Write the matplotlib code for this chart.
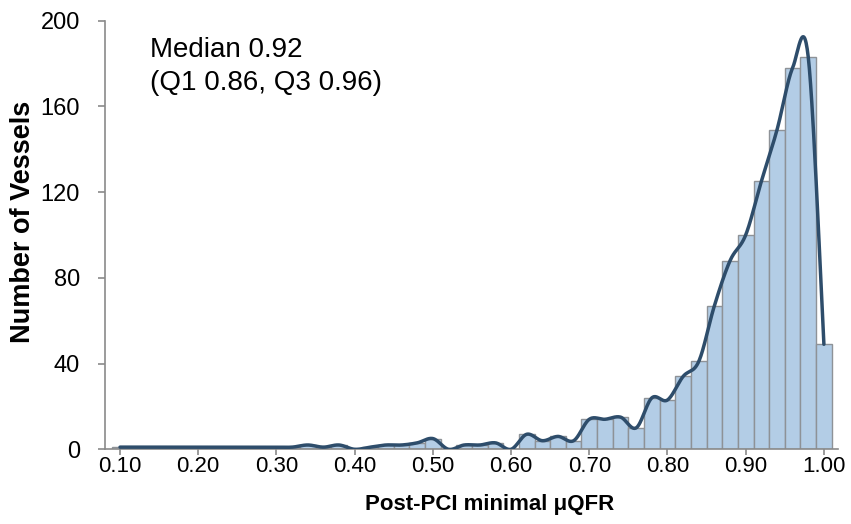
import numpy as np
import matplotlib
matplotlib.use("Agg")
import matplotlib.pyplot as plt

# Histogram of post-PCI minimal uQFR, bins 0.02 wide centred on even hundredths
bin_centers = np.round(np.arange(0.10, 1.001, 0.02), 2)
counts = [1, 1, 1, 1, 1, 1, 1, 1, 1, 1,      # 0.10 - 0.28
          1, 1, 2, 1, 2, 0, 1, 2, 2, 3,      # 0.30 - 0.48
          5, 0, 2, 2, 3, 0, 7, 4, 6, 4,      # 0.50 - 0.68
          14, 14, 15, 10, 24, 23, 34, 41, 67, 88,   # 0.70 - 0.88
          100, 125, 149, 178, 183, 49]       # 0.90 - 1.00
x_ticks = [0.10, 0.20, 0.30, 0.40, 0.50, 0.60, 0.70, 0.80, 0.90, 1.00]
y_ticks = [0, 40, 80, 120, 160, 200]
note = "Median 0.92\n(Q1 0.86, Q3 0.96)"

plt.rcParams["font.family"] = ["Liberation Sans", "DejaVu Sans"]

BAR = "#b3cde6"
EDGE = "#8e9297"
LINE = "#2e4d6b"
AXIS = "#8a8a8a"


def smooth_line(x, y, n=30):
    """Excel-style smoothed line (Catmull-Rom through every point)."""
    x = np.asarray(x, float)
    y = np.asarray(y, float)
    px = np.concatenate([[x[0]], x, [x[-1]]])
    py = np.concatenate([[y[0]], y, [y[-1]]])
    t = np.linspace(0, 1, n)[:, None]
    h00 = 2 * t**3 - 3 * t**2 + 1
    h10 = t**3 - 2 * t**2 + t
    h01 = -2 * t**3 + 3 * t**2
    h11 = t**3 - t**2
    out_x, out_y = [], []
    for i in range(1, len(px) - 2):
        mx0, mx1 = (px[i + 1] - px[i - 1]) / 2, (px[i + 2] - px[i]) / 2
        my0, my1 = (py[i + 1] - py[i - 1]) / 2, (py[i + 2] - py[i]) / 2
        out_x.append((h00 * px[i] + h10 * mx0 + h01 * px[i + 1] + h11 * mx1).ravel())
        out_y.append((h00 * py[i] + h10 * my0 + h01 * py[i + 1] + h11 * my1).ravel())
    return np.concatenate(out_x), np.concatenate(out_y)


fig = plt.figure(figsize=(8.51, 5.24), dpi=100)
ax = fig.add_axes([0.1234, 0.1426, 0.8613, 0.8179])

ax.bar(bin_centers, counts, width=0.02, color=BAR, edgecolor=EDGE, linewidth=1.0, zorder=2)
sx, sy = smooth_line(bin_centers, counts)
ax.plot(sx, sy, color=LINE, linewidth=2.5, zorder=3, solid_capstyle="round")

ax.set_xlim(0.0808, 1.018)
ax.set_ylim(0, 200)
ax.set_xticks(x_ticks)
ax.set_xticklabels([f"{v:.2f}" for v in x_ticks])
ax.set_yticks(y_ticks)

for s in ("top", "right"):
    ax.spines[s].set_visible(False)
for s in ("left", "bottom"):
    ax.spines[s].set_color(AXIS)
    ax.spines[s].set_linewidth(1.2)

ax.tick_params(axis="x", length=4.5, width=1.2, color=AXIS, pad=0.5, labelsize=16)
ax.tick_params(axis="y", length=5, width=1.2, color=AXIS, pad=13, labelsize=17)

ax.set_xlabel("Post-PCI minimal μQFR", fontsize=16, fontweight="bold")
ax.xaxis.set_label_coords(0.525, -0.105)
ax.set_ylabel("Number of Vessels", fontsize=19.5, fontweight="bold")
ax.yaxis.set_label_coords(-0.094, 0.53)

ax.text(0.0614, 0.962, note, transform=ax.transAxes, fontsize=20,
        va="top", ha="left", linespacing=1.33)

fig.savefig("out.png", dpi=100)
